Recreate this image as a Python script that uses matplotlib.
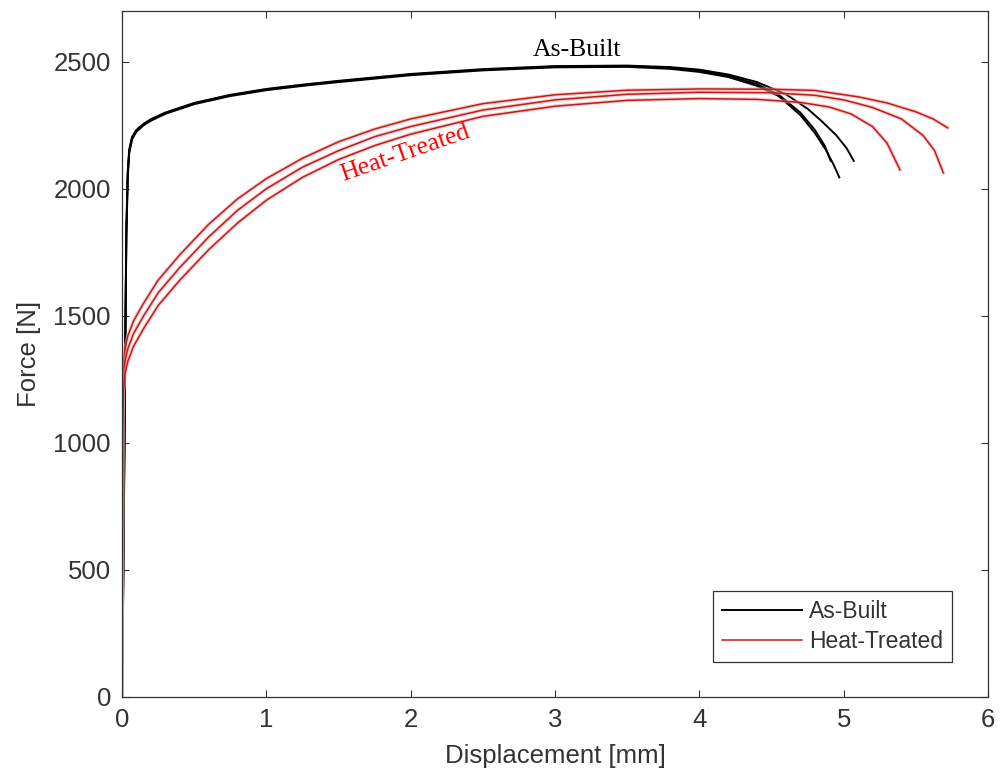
import matplotlib
matplotlib.use('Agg')
import matplotlib.pyplot as plt

# As-Built specimens (displacement in mm, force in N)
ab1_x = [0, 0.01, 0.02, 0.03, 0.04, 0.05, 0.07, 0.1, 0.15, 0.2, 0.3, 0.5, 0.75, 1.0, 1.25, 1.5,
         2.0, 2.5, 3.0, 3.5, 3.8, 4.0, 4.2, 4.4, 4.55, 4.7, 4.8, 4.88, 4.93, 4.97]
ab1_y = [0, 500, 1200, 1800, 2050, 2140, 2195, 2225, 2250, 2268, 2295, 2333, 2365, 2388, 2405, 2420,
         2447, 2466, 2478, 2480, 2472, 2460, 2440, 2405, 2365, 2290, 2220, 2150, 2095, 2045]

ab2_x = [0, 0.01, 0.02, 0.03, 0.04, 0.05, 0.07, 0.1, 0.15, 0.2, 0.3, 0.5, 0.75, 1.0, 1.25, 1.5,
         2.0, 2.5, 3.0, 3.5, 3.8, 4.0, 4.2, 4.4, 4.6, 4.75, 4.85, 4.95, 5.02, 5.07]
ab2_y = [0, 550, 1250, 1850, 2070, 2155, 2205, 2232, 2256, 2274, 2300, 2338, 2370, 2393, 2410, 2425,
         2452, 2471, 2483, 2485, 2479, 2469, 2450, 2420, 2372, 2315, 2265, 2210, 2160, 2110]

ab3_x = [0, 0.01, 0.02, 0.03, 0.04, 0.05, 0.07, 0.1, 0.15, 0.2, 0.3, 0.5, 0.75, 1.0, 1.25, 1.5,
         2.0, 2.5, 3.0, 3.5, 3.8, 4.0, 4.2, 4.4, 4.55, 4.7, 4.8, 4.87, 4.91]
ab3_y = [0, 520, 1220, 1820, 2060, 2148, 2200, 2228, 2253, 2271, 2298, 2336, 2368, 2391, 2408, 2423,
         2450, 2469, 2481, 2483, 2476, 2465, 2445, 2412, 2370, 2300, 2232, 2168, 2110]

# Heat-Treated specimens
ht1_x = [0, 0.005, 0.01, 0.02, 0.04, 0.08, 0.15, 0.25, 0.4, 0.6, 0.8, 1.0, 1.25, 1.5, 1.75, 2.0,
         2.5, 3.0, 3.5, 4.0, 4.5, 4.8, 5.1, 5.3, 5.5, 5.62, 5.72]
ht1_y = [0, 1150, 1300, 1370, 1420, 1480, 1550, 1640, 1740, 1860, 1960, 2040, 2120, 2185, 2235, 2275,
         2335, 2370, 2388, 2393, 2392, 2387, 2362, 2338, 2303, 2275, 2240]

ht2_x = [0, 0.005, 0.01, 0.02, 0.04, 0.08, 0.15, 0.25, 0.4, 0.6, 0.8, 1.0, 1.25, 1.5, 1.75, 2.0,
         2.5, 3.0, 3.5, 4.0, 4.5, 4.8, 5.0, 5.2, 5.4, 5.55, 5.63, 5.69]
ht2_y = [0, 1100, 1250, 1320, 1370, 1430, 1500, 1590, 1690, 1810, 1915, 2000, 2085, 2150, 2205, 2245,
         2310, 2350, 2372, 2380, 2378, 2368, 2350, 2320, 2275, 2210, 2150, 2063]

ht3_x = [0, 0.005, 0.01, 0.02, 0.04, 0.08, 0.15, 0.25, 0.4, 0.6, 0.8, 1.0, 1.25, 1.5, 1.75, 2.0,
         2.5, 3.0, 3.5, 4.0, 4.4, 4.7, 4.9, 5.05, 5.2, 5.3, 5.39]
ht3_y = [0, 1050, 1200, 1270, 1320, 1380, 1450, 1540, 1640, 1760, 1865, 1955, 2045, 2115, 2170, 2215,
         2285, 2325, 2348, 2355, 2352, 2340, 2322, 2295, 2245, 2180, 2075]

x_ticks = [0, 1, 2, 3, 4, 5, 6]
y_ticks = [0, 500, 1000, 1500, 2000, 2500]

as_built = [(ab1_x, ab1_y), (ab2_x, ab2_y), (ab3_x, ab3_y)]
heat_treated = [(ht1_x, ht1_y), (ht2_x, ht2_y), (ht3_x, ht3_y)]

axis_col = '#333333'
red_col = '#c41a1a'

plt.rcParams['font.family'] = ['Liberation Sans', 'DejaVu Sans']

fig = plt.figure(figsize=(10, 7.83), dpi=100)
ax = fig.add_axes([0.122, 0.110, 0.866, 0.876])

for i, (x, y) in enumerate(as_built):
    ax.plot(x, y, color='black', lw=1.4, label='As-Built' if i == 0 else None)
for i, (x, y) in enumerate(heat_treated):
    # soft halo under each red trace
    ax.plot(x, y, color='#f3a5a5', lw=2.6, alpha=0.6)
    ax.plot(x, y, color=red_col, lw=1.1, label='Heat-Treated' if i == 0 else None)

ax.set_xlim(0, 6)
ax.set_ylim(0, 2700)
ax.set_xticks(x_ticks)
ax.set_yticks(y_ticks)
ax.tick_params(direction='in', top=True, right=True, length=5, width=0.8,
               colors=axis_col, labelsize=18.5, pad=8)
for s in ax.spines.values():
    s.set_color(axis_col)
    s.set_linewidth(0.9)

ax.set_xlabel('Displacement [mm]', fontsize=18.5, color=axis_col, labelpad=9)
ax.set_ylabel('Force [N]', fontsize=18.5, color=axis_col, labelpad=9)

ax.text(3.15, 2548, 'As-Built', family='Liberation Serif', fontsize=18.5,
        color='black', ha='center', va='center')
ax.text(1.96, 2140, 'Heat-Treated', family='Liberation Serif', fontsize=18.5,
        color='red', ha='center', va='center', rotation=19)

leg = ax.legend(loc='lower right', bbox_to_anchor=(0.9584, 0.051), borderaxespad=0,
                fontsize=16.5, handlelength=3.5, handletextpad=0.3, fancybox=False,
                framealpha=1, edgecolor=axis_col, borderpad=0.4, labelspacing=0.3)
leg.get_frame().set_linewidth(0.9)
for t in leg.get_texts():
    t.set_color(axis_col)

fig.savefig('out.png', dpi=100)
